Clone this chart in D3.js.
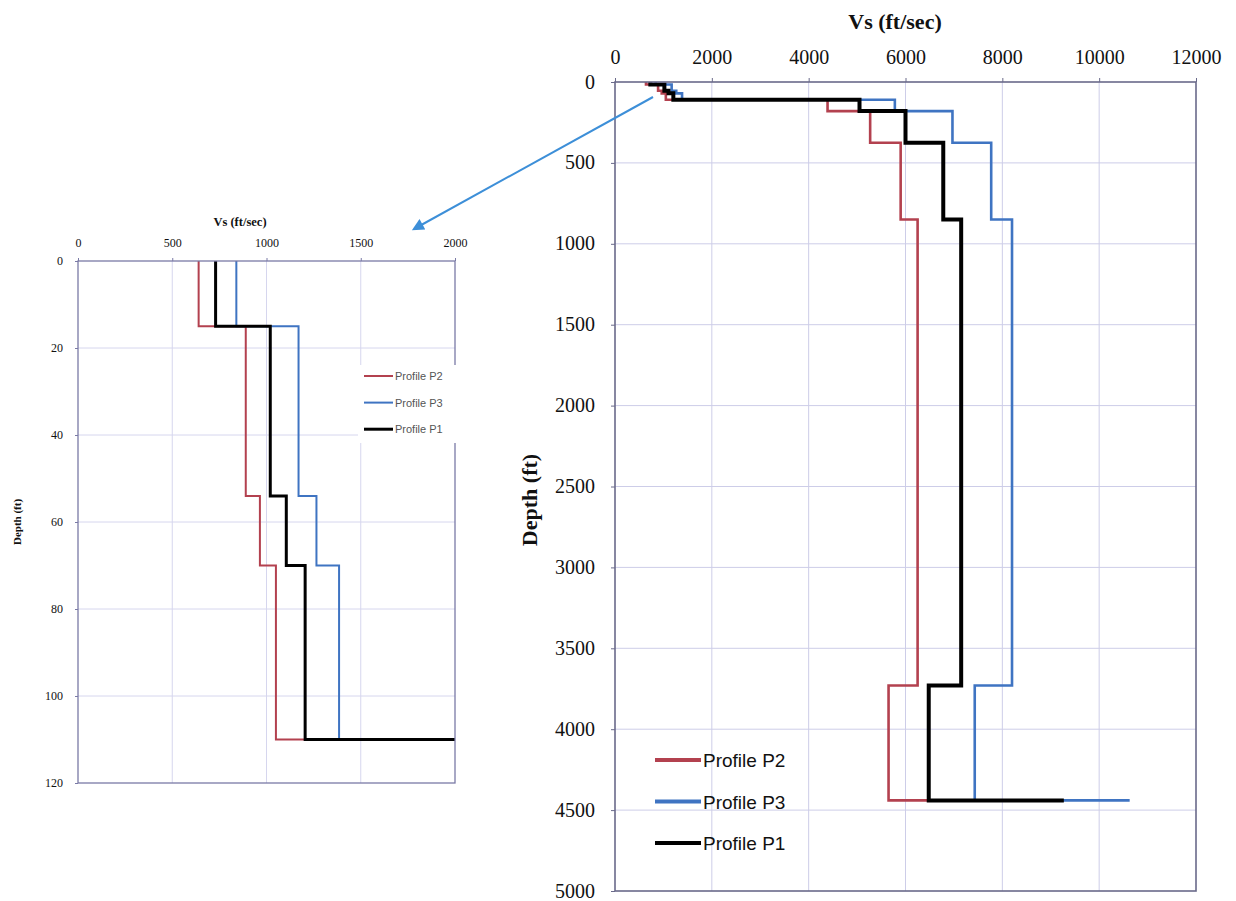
<!DOCTYPE html>
<html>
<head>
<meta charset="utf-8">
<script src="https://cdn.jsdelivr.net/npm/d3@7/dist/d3.min.js"></script>
<style>
  html, body { margin: 0; padding: 0; background: #fff; }
  svg { display: block; }
</style>
</head>
<body>
<svg id="chart" width="1236" height="901"></svg>
<script>
// Layer tops (ft). The last entry is the half-space boundary.
const layerTops = [0, 15, 54, 70, 110, 180, 375, 850, 3730, 4440];

// Shear-wave velocity (ft/sec) of each layer; last value is the half-space.
const vsP2 = [640, 890, 965, 1050, 4390, 5270, 5900, 6250, 5650, 9270];
const vsP3 = [840, 1170, 1265, 1385, 5780, 6970, 7770, 8200, 7430, 10630];
const vsP1 = [730, 1020, 1105, 1205, 5050, 6000, 6780, 7150, 6480, 9270];

const seriesNames = ["Profile P2", "Profile P3", "Profile P1"];
const seriesColors = ["#b3414f", "#3f74c2", "#000000"];

// Axis ticks
const mainVsTicks = [0, 2000, 4000, 6000, 8000, 10000, 12000];
const mainDepthTicks = [0, 500, 1000, 1500, 2000, 2500, 3000, 3500, 4000, 4500, 5000];
const zoomVsTicks = [0, 500, 1000, 1500, 2000];
const zoomDepthTicks = [0, 20, 40, 60, 80, 100, 120];

const profiles = [vsP2, vsP3, vsP1].map((vs, i) => ({
  name: seriesNames[i],
  color: seriesColors[i],
  vs
}));

// Build the staircase vertices of a velocity profile.
function stepPoints(vs) {
  const pts = [];
  for (let i = 0; i < vs.length; i++) {
    pts.push([vs[i], layerTops[i]]);
    if (i + 1 < layerTops.length) pts.push([vs[i], layerTops[i + 1]]);
  }
  return pts;
}

const svg = d3.select("#chart");
const serif = "'Liberation Serif', 'Times New Roman', serif";
const sans = "'Liberation Sans', Arial, sans-serif";

function drawPanel(opt) {
  const { left, right, top, bottom, xMax, yMax, xTicks, yTicks, widths,
          tickSize, frameColor, gridColor, id } = opt;
  const x = d3.scaleLinear().domain([0, xMax]).range([left, right]);
  const y = d3.scaleLinear().domain([0, yMax]).range([top, bottom]);
  const g = svg.append("g");

  // grid
  g.append("g").selectAll("line").data(xTicks.slice(1, -1)).join("line")
    .attr("x1", d => x(d)).attr("x2", d => x(d))
    .attr("y1", top).attr("y2", bottom)
    .attr("stroke", gridColor).attr("stroke-width", 1);
  g.append("g").selectAll("line").data(yTicks.slice(1, -1)).join("line")
    .attr("x1", left).attr("x2", right)
    .attr("y1", d => y(d)).attr("y2", d => y(d))
    .attr("stroke", gridColor).attr("stroke-width", 1);

  // axes
  const xAxis = g.append("g").attr("transform", `translate(0,${top})`)
    .call(d3.axisTop(x).tickValues(xTicks).tickFormat(d3.format("d"))
      .tickSize(opt.tickLen).tickPadding(opt.xPad));
  const yAxis = g.append("g").attr("transform", `translate(${left},0)`)
    .call(d3.axisLeft(y).tickValues(yTicks).tickFormat(d3.format("d"))
      .tickSize(opt.tickLen).tickPadding(opt.yPad));
  [xAxis, yAxis].forEach(a => {
    a.select(".domain").remove();
    a.selectAll(".tick line").attr("stroke", frameColor);
    a.selectAll(".tick text")
      .attr("font-family", serif).attr("font-size", tickSize)
      .attr("fill", "#111");
  });
  yAxis.selectAll(".tick text").attr("dy", "0.3em");

  // series
  const clipId = "clip-" + id;
  svg.append("clipPath").attr("id", clipId).append("rect")
    .attr("x", left).attr("y", top - 2).attr("width", right - left).attr("height", bottom - top + 2);
  const line = d3.line().x(d => x(d[0])).y(d => y(d[1]));
  g.append("g").attr("clip-path", `url(#${clipId})`)
    .selectAll("path").data(profiles).join("path")
    .attr("d", p => line(stepPoints(p.vs)))
    .attr("fill", "none")
    .attr("stroke", p => p.color)
    .attr("stroke-width", (p, i) => widths[i])
    .attr("stroke-linejoin", "miter");

  // frame
  g.append("rect").attr("x", left).attr("y", top)
    .attr("width", right - left).attr("height", bottom - top)
    .attr("fill", "none").attr("stroke", frameColor).attr("stroke-width", opt.frameWidth);

  return { g, x, y };
}

// ---- Detail panel: top 120 ft ----
const small = drawPanel({
  id: "detail", left: 78, right: 455, top: 261, bottom: 783,
  xMax: 2000, yMax: 120, xTicks: zoomVsTicks, yTicks: zoomDepthTicks,
  widths: [2, 2, 3], tickSize: 12,
  tickLen: 3, xPad: 11, yPad: 12,
  frameColor: "#7a7aa6", gridColor: "#d6d6ee", frameWidth: 1.3
});

small.g.append("text").attr("x", 240).attr("y", 226)
  .attr("text-anchor", "middle").attr("font-family", serif)
  .attr("font-weight", "bold").attr("font-size", 12.5).attr("fill", "#111")
  .text("Vs (ft/sec)");
small.g.append("text")
  .attr("transform", "translate(21,522) rotate(-90)")
  .attr("text-anchor", "middle").attr("font-family", serif)
  .attr("font-weight", "bold").attr("font-size", 11).attr("fill", "#111")
  .text("Depth (ft)");

// detail legend
const smallLeg = small.g.append("g");
smallLeg.append("rect").attr("x", 358).attr("y", 365).attr("width", 104).attr("height", 78)
  .attr("fill", "#fff");
profiles.forEach((p, i) => {
  const yy = 376 + i * 26.6;
  smallLeg.append("line").attr("x1", 364).attr("x2", 393).attr("y1", yy).attr("y2", yy)
    .attr("stroke", p.color).attr("stroke-width", i === 2 ? 3 : 2);
  smallLeg.append("text").attr("x", 395).attr("y", yy + 4)
    .attr("font-family", sans).attr("font-size", 11).attr("fill", "#555")
    .text(p.name);
});

// ---- Main panel: full depth ----
const main = drawPanel({
  id: "main", left: 615, right: 1196, top: 82, bottom: 891,
  xMax: 12000, yMax: 5000, xTicks: mainVsTicks, yTicks: mainDepthTicks,
  widths: [2.6, 2.6, 4], tickSize: 20,
  tickLen: 4, xPad: 14, yPad: 16,
  frameColor: "#6a6a8a", gridColor: "#cdcde8", frameWidth: 1.6
});

main.g.append("text").attr("x", 895).attr("y", 29)
  .attr("text-anchor", "middle").attr("font-family", serif)
  .attr("font-weight", "bold").attr("font-size", 22).attr("fill", "#111")
  .text("Vs (ft/sec)");
main.g.append("text")
  .attr("transform", "translate(537,500) rotate(-90)")
  .attr("text-anchor", "middle").attr("font-family", serif)
  .attr("font-weight", "bold").attr("font-size", 22).attr("fill", "#111")
  .text("Depth (ft)");

const mainLeg = main.g.append("g");
profiles.forEach((p, i) => {
  const yy = 760 + i * 41.5;
  mainLeg.append("line").attr("x1", 655).attr("x2", 701).attr("y1", yy).attr("y2", yy)
    .attr("stroke", p.color).attr("stroke-width", 4);
  mainLeg.append("text").attr("x", 703).attr("y", yy + 7)
    .attr("font-family", sans).attr("font-size", 19).attr("fill", "#111")
    .text(p.name);
});

// ---- Callout arrow from the shallow part of the main panel to the detail ----
svg.append("defs").append("marker")
  .attr("id", "arrowhead").attr("viewBox", "0 0 10 10")
  .attr("refX", 8).attr("refY", 5)
  .attr("markerWidth", 7).attr("markerHeight", 6)
  .attr("orient", "auto")
  .append("path").attr("d", "M0,0 L10,5 L0,10 Z").attr("fill", "#3d8fd8");
svg.append("line")
  .attr("x1", 653).attr("y1", 97).attr("x2", 414).attr("y2", 229)
  .attr("stroke", "#3d8fd8").attr("stroke-width", 2)
  .attr("marker-end", "url(#arrowhead)");
</script>
</body>
</html>
